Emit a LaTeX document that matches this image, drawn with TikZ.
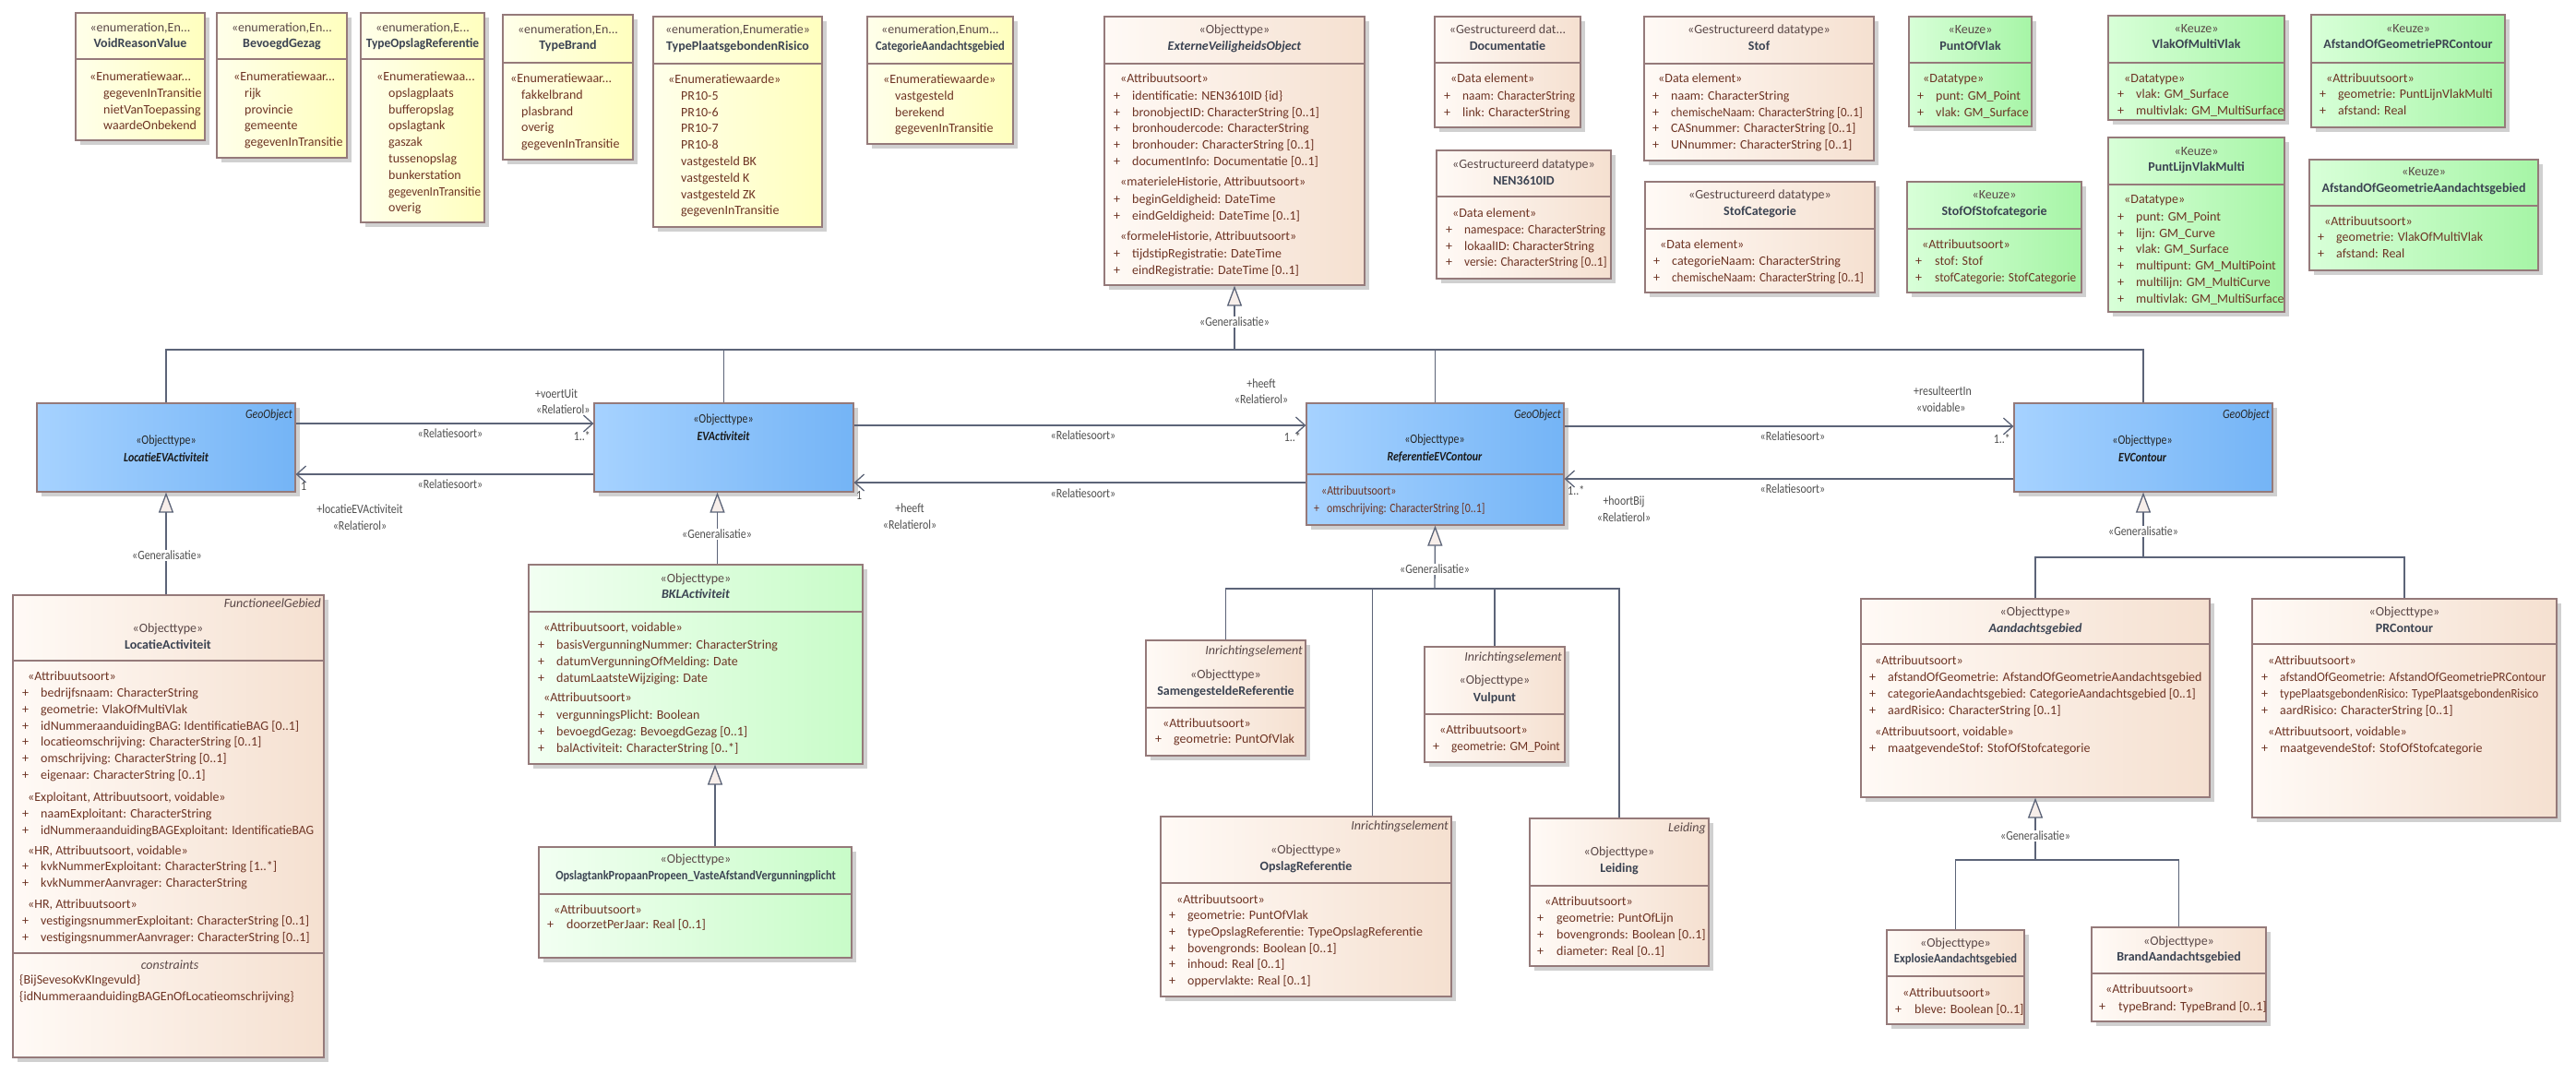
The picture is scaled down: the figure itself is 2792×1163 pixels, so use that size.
\documentclass[tikz,border=0pt]{standalone}
\usepackage{fontspec}
\usepackage{graphicx}
\setmainfont{Carlito}
\newfontfamily\narrowf[FakeStretch=0.85]{Carlito}
\usetikzlibrary{fit,shadows,arrows.meta}

\definecolor{boxc}{HTML}{957A7A}
\definecolor{shadc}{HTML}{D0D0D0}
\definecolor{conc}{HTML}{5C6478}
\definecolor{atc}{HTML}{6E3424}
\definecolor{stc}{HTML}{5A4848}
\definecolor{nmc}{HTML}{3B4352}
\definecolor{lblc}{HTML}{4F4F4F}
\definecolor{enL}{HTML}{FFFFEA}\definecolor{enR}{HTML}{FFFFBE}
\definecolor{bgL}{HTML}{FFFAF6}\definecolor{bgR}{HTML}{F5E0D0}
\definecolor{grL}{HTML}{D8FFD8}\definecolor{grR}{HTML}{A6F5A6}
\definecolor{lgL}{HTML}{F2FFF2}\definecolor{lgR}{HTML}{C8FCC8}
\definecolor{blL}{HTML}{A6D2FF}\definecolor{blR}{HTML}{74B4F6}
\definecolor{trif}{HTML}{F7EEEA}

\newcounter{tn}
\newcommand\fsz{\fontsize{14}{17.8}\selectfont}
\newcommand\sq[2]{\scalebox{#1}[1]{#2}}
\newcommand\tx[4][]{\stepcounter{tn}\node[anchor=mid,#1] (t\arabic{tn}) at (#2,#3) {#4};}
\newcommand\vl[3]{\foreach \vv [count=\ii from 0] in {#3} {\tx[atw]{#1}{#2+\ii*17.8}{\vv}}}
\newcommand\pls[4]{\foreach \vv [count=\ii from 0] in {#4} {\tx[atw]{#1}{#3+\ii*17.8}{+}\tx[atw]{#2}{#3+\ii*17.8}{\vv}}}
\newcommand\dv[3]{\draw[boxln] (#1,#3) -- (#2,#3);}

\tikzset{
  every node/.style={font=\fsz, inner sep=0pt},
  cls/.style={draw=boxc, line width=1.2pt, inner sep=0pt, rectangle,
    drop shadow={shadow xshift=5pt, shadow yshift=-5pt, fill=shadc, opacity=1}},
  yel/.style={left color=enL, right color=enR},
  bge/.style={left color=bgL, right color=bgR},
  grn/.style={left color=grL, right color=grR},
  lgr/.style={left color=lgL, right color=lgR},
  blu/.style={left color=blL, right color=blR},
  boxln/.style={draw=boxc, line width=1.2pt},
  hst/.style={text=stc},
  hnm/.style={text=nmc, font=\fsz\bfseries},
  hnmi/.style={text=nmc, font=\fsz\bfseries\itshape},
  at/.style={text=atc},
  atw/.style={text=atc, anchor=mid west},
  it/.style={text=stc, font=\fsz\itshape},
  gst/.style={text=black!85, font=\narrowf\fsz\itshape},
  bst/.style={text=black!85, font=\narrowf\fsz},
  bnm/.style={text=black!90, font=\narrowf\fsz\bfseries\itshape},
  bat/.style={text=atc, font=\narrowf\fsz},
  lbl/.style={text=lblc, font=\narrowf\fsz},
  gl/.style={lbl, fill=white, inner xsep=2pt, inner ysep=1pt},
  conn/.style={draw=conc, line width=1.3pt},
  gen/.style={conn, -{Triangle[length=22pt,width=16pt,fill=trif,line width=1.3pt]}},
  assoc/.style={conn, -{Straight Barb[length=10pt,width=18pt,line width=1.3pt]}},
}

\begin{document}
\begin{tikzpicture}[x=1pt,y=-1pt]
\fill[white] (0,0) rectangle (2792,1163);
\useasboundingbox (0,0) rectangle (2792,1163);

% ---------------- enumerations
\node[cls,yel,fit={(82,14) (222,152)}] (void) {};
\dv{82}{222}{64}
\tx[hst]{152}{32}{«enumeration,En...}
\tx[hnm]{152}{49}{VoidReasonValue}
\tx[atw]{97}{85}{«Enumeratiewaar...}
\vl{112}{103}{gegevenInTransitie,nietVanToepassing,waardeOnbekend}

\node[cls,yel,fit={(235,14) (376,171)}] (bevoegd) {};
\dv{235}{376}{64}
\tx[hst]{305.5}{32}{«enumeration,En...}
\tx[hnm]{305.5}{49}{BevoegdGezag}
\tx[atw]{253}{85}{«Enumeratiewaar...}
\vl{265}{103}{rijk,provincie,gemeente,gegevenInTransitie}

\node[cls,yel,fit={(391,14) (525,241)}] (typeopslag) {};
\dv{391}{525}{64}
\tx[hst]{458}{32}{«enumeration,E...}
\tx[hnm]{458}{49}{\sq{0.96}{TypeOpslagReferentie}}
\tx[atw]{408}{85}{«Enumeratiewaa...}
\vl{421}{103}{opslagplaats,bufferopslag,opslagtank,gaszak,tussenopslag,bunkerstation,\sq{0.94}{gegevenInTransitie},overig}

\node[cls,yel,fit={(545,16) (686,173)}] (typebrand) {};
\dv{545}{686}{68}
\tx[hst]{615.5}{34}{«enumeration,En...}
\tx[hnm]{615.5}{51}{TypeBrand}
\tx[atw]{553}{87}{«Enumeratiewaar...}
\vl{565}{105}{fakkelbrand,plasbrand,overig,gegevenInTransitie}

\node[cls,yel,fit={(708,18) (891,246)}] (typepr) {};
\dv{708}{891}{69}
\tx[hst]{799.5}{34}{«enumeration,Enumeratie»}
\tx[hnm]{799.5}{52}{TypePlaatsgebondenRisico}
\tx[atw]{724}{88}{«Enumeratiewaarde»}
\vl{738}{106}{PR10-5,PR10-6,PR10-7,PR10-8,vastgesteld BK,vastgesteld K,vastgesteld ZK,gegevenInTransitie}

\node[cls,yel,fit={(940,18) (1098,156)}] (catag) {};
\dv{940}{1098}{69}
\tx[hst]{1019}{34}{«enumeration,Enum...}
\tx[hnm]{1019}{52}{\sq{0.9}{CategorieAandachtsgebied}}
\tx[atw]{957}{88}{«Enumeratiewaarde»}
\vl{970}{106}{vastgesteld,berekend,gegevenInTransitie}

% ---------------- data types top
\node[cls,bge,fit={(1197,18) (1479,309)}] (evo) {};
\dv{1197}{1479}{69}
\tx[hst]{1338}{34}{«Objecttype»}
\tx[hnmi]{1338}{52}{ExterneVeiligheidsObject}
\tx[atw]{1214}{87}{«Attribuutsoort»}
\pls{1207}{1227}{106}{identificatie: NEN3610ID \{id\},bronobjectID: CharacterString [0..1],bronhoudercode: CharacterString,bronhouder: CharacterString [0..1],documentInfo: Documentatie [0..1]}
\tx[atw]{1214}{199}{«materieleHistorie, Attribuutsoort»}
\pls{1207}{1227}{218}{beginGeldigheid: DateTime,eindGeldigheid: DateTime [0..1]}
\tx[atw]{1214}{258}{«formeleHistorie, Attribuutsoort»}
\pls{1207}{1227}{277}{tijdstipRegistratie: DateTime,eindRegistratie: DateTime [0..1]}

\node[cls,bge,fit={(1555,18) (1713,138)}] (doc) {};
\dv{1555}{1713}{68}
\tx[hst]{1634}{34}{«Gestructureerd dat...}
\tx[hnm]{1634}{52}{Documentatie}
\tx[atw]{1572}{87}{«Data element»}
\pls{1565}{1585}{106}{\sq{0.95}{naam: CharacterString},link: CharacterString}

\node[cls,bge,fit={(1557,163) (1746,302)}] (nen) {};
\dv{1557}{1746}{213}
\tx[hst]{1651.5}{180}{«Gestructureerd datatype»}
\tx[hnm]{1651.5}{198}{NEN3610ID}
\tx[atw]{1574}{233}{«Data element»}
\pls{1567}{1587}{251}{\sq{0.95}{namespace: CharacterString},lokaalID: CharacterString,\sq{0.95}{versie: CharacterString [0..1]}}

\node[cls,bge,fit={(1782,18) (2031,174)}] (stof) {};
\dv{1782}{2031}{69}
\tx[hst]{1906.5}{34}{«Gestructureerd datatype»}
\tx[hnm]{1906.5}{52}{Stof}
\tx[atw]{1797}{87}{«Data element»}
\pls{1791}{1811}{106}{naam: CharacterString,\sq{0.93}{chemischeNaam: CharacterString [0..1]},CASnummer: CharacterString [0..1],UNnummer: CharacterString [0..1]}

\node[cls,bge,fit={(1783,197) (2032,317)}] (stofcat) {};
\dv{1783}{2032}{248}
\tx[hst]{1907.5}{213}{«Gestructureerd datatype»}
\tx[hnm]{1907.5}{231}{StofCategorie}
\tx[atw]{1799}{267}{«Data element»}
\pls{1792}{1812}{285}{categorieNaam: CharacterString,\sq{0.93}{chemischeNaam: CharacterString [0..1]}}

\node[cls,grn,fit={(2069,18) (2202,137)}] (pov) {};
\dv{2069}{2202}{68}
\tx[hst]{2135.5}{34}{«Keuze»}
\tx[hnm]{2135.5}{52}{PuntOfVlak}
\tx[atw]{2084}{87}{«Datatype»}
\pls{2078}{2098}{106}{punt: GM\_Point,vlak: GM\_Surface}

\node[cls,grn,fit={(2067,197) (2256,317)}] (sosc) {};
\dv{2067}{2256}{248}
\tx[hst]{2161.5}{213}{«Keuze»}
\tx[hnm]{2161.5}{231}{StofOfStofcategorie}
\tx[atw]{2083}{267}{«Attribuutsoort»}
\pls{2076}{2097}{285}{stof: Stof,\sq{0.95}{stofCategorie: StofCategorie}}

\node[cls,grn,fit={(2285,17) (2476,130)}] (vomv) {};
\dv{2285}{2476}{68}
\tx[hst]{2380.5}{33}{«Keuze»}
\tx[hnm]{2380.5}{50}{VlakOfMultiVlak}
\tx[atw]{2302}{87}{«Datatype»}
\pls{2295}{2315}{104}{vlak: GM\_Surface,multivlak: GM\_MultiSurface}

\node[cls,grn,fit={(2285,149) (2476,338)}] (plvm) {};
\dv{2285}{2476}{200}
\tx[hst]{2380.5}{166}{«Keuze»}
\tx[hnm]{2380.5}{183}{PuntLijnVlakMulti}
\tx[atw]{2302}{218}{«Datatype»}
\pls{2295}{2315}{237}{punt: GM\_Point,lijn: GM\_Curve,vlak: GM\_Surface,multipunt: GM\_MultiPoint,multilijn: GM\_MultiCurve,multivlak: GM\_MultiSurface}

\node[cls,grn,fit={(2505,16) (2715,138)}] (agpr) {};
\dv{2505}{2715}{68}
\tx[hst]{2610}{33}{«Keuze»}
\tx[hnm]{2610}{50}{AfstandOfGeometriePRContour}
\tx[atw]{2521}{87}{«Attribuutsoort»}
\pls{2514}{2534}{104}{geometrie: PuntLijnVlakMulti,afstand: Real}

\node[cls,grn,fit={(2503,173) (2751,293)}] (aga) {};
\dv{2503}{2751}{223}
\tx[hst]{2627}{188}{«Keuze»}
\tx[hnm]{2627}{206}{AfstandOfGeometrieAandachtsgebied}
\tx[atw]{2519}{242}{«Attribuutsoort»}
\pls{2512}{2532}{259}{geometrie: VlakOfMultiVlak,afstand: Real}

% ---------------- blue row
\node[cls,blu,fit={(40,437) (320,533)}] (locev) {};
\tx[gst,anchor=mid east]{317}{451}{GeoObject}
\tx[bst]{180}{479}{«Objecttype»}
\tx[bnm]{180}{498}{LocatieEVActiviteit}

\node[cls,blu,fit={(644,437) (925,533)}] (evact) {};
\tx[bst]{784}{456}{«Objecttype»}
\tx[bnm]{784}{475}{EVActiviteit}

\node[cls,blu,fit={(1416,437) (1695,569)}] (refev) {};
\dv{1416}{1695}{514}
\tx[gst,anchor=mid east]{1692}{451}{GeoObject}
\tx[bst]{1555}{478}{«Objecttype»}
\tx[bnm]{1555}{497}{ReferentieEVContour}
\tx[bat,anchor=mid west]{1432}{534}{«Attribuutsoort»}
\tx[bat,anchor=mid west]{1424}{553}{+}
\tx[bat,anchor=mid west]{1438}{553}{omschrijving: CharacterString [0..1]}

\node[cls,blu,fit={(2183,437) (2463,533)}] (evcon) {};
\tx[gst,anchor=mid east]{2460}{451}{GeoObject}
\tx[bst]{2322}{479}{«Objecttype»}
\tx[bnm]{2322}{498}{EVContour}

% ---------------- lower classes
\node[cls,bge,fit={(14,645) (351,1146)}] (locact) {};
\dv{14}{351}{716}
\dv{14}{351}{1033}
\tx[it,anchor=mid east]{348}{656}{FunctioneelGebied}
\tx[hst]{182}{683}{«Objecttype»}
\tx[hnm]{182}{701}{LocatieActiviteit}
\tx[atw]{30}{735}{«Attribuutsoort»}
\pls{24}{44}{753}{bedrijfsnaam: CharacterString,geometrie: VlakOfMultiVlak,idNummeraanduidingBAG: IdentificatieBAG [0..1],locatieomschrijving: CharacterString [0..1],omschrijving: CharacterString [0..1],eigenaar: CharacterString [0..1]}
\tx[atw]{30}{866}{«Exploitant, Attribuutsoort, voidable»}
\pls{24}{44}{884}{naamExploitant: CharacterString,\sq{0.97}{idNummeraanduidingBAGExploitant: IdentificatieBAG}}
\tx[atw]{30}{924}{«HR, Attribuutsoort, voidable»}
\pls{24}{44}{941}{kvkNummerExploitant: CharacterString [1..*],kvkNummerAanvrager: CharacterString}
\tx[atw]{30}{982}{«HR, Attribuutsoort»}
\pls{24}{44}{1000}{vestigingsnummerExploitant: CharacterString [0..1],vestigingsnummerAanvrager: CharacterString [0..1]}
\tx[it]{184}{1048}{constraints}
\tx[atw]{21}{1064}{\{BijSevesoKvKIngevuld\}}
\tx[atw]{21}{1082}{\{idNummeraanduidingBAGEnOfLocatieomschrijving\}}

\node[cls,lgr,fit={(573,612) (935,828)}] (bkl) {};
\dv{573}{935}{663}
\tx[hst]{754}{629}{«Objecttype»}
\tx[hnmi]{754}{646}{BKLActiviteit}
\tx[atw]{589}{682}{«Attribuutsoort, voidable»}
\pls{583}{603}{701}{basisVergunningNummer: CharacterString,datumVergunningOfMelding: Date,datumLaatsteWijziging: Date}
\tx[atw]{589}{758}{«Attribuutsoort»}
\pls{583}{603}{777}{vergunningsPlicht: Boolean,bevoegdGezag: BevoegdGezag [0..1],balActiviteit: CharacterString [0..*]}

\node[cls,lgr,fit={(584,918) (923,1038)}] (opstank) {};
\dv{584}{923}{969}
\tx[hst]{754}{933}{«Objecttype»}
\tx[hnm]{754}{951}{\sq{0.88}{OpslagtankPropaanPropeen\_VasteAfstandVergunningplicht}}
\tx[atw]{600}{988}{«Attribuutsoort»}
\pls{593}{614}{1004}{doorzetPerJaar: Real [0..1]}

\node[cls,bge,fit={(1242,694) (1415,819)}] (samref) {};
\dv{1242}{1415}{767}
\tx[it,anchor=mid east]{1412}{707}{Inrichtingselement}
\tx[hst]{1328.5}{733}{«Objecttype»}
\tx[hnm]{1328.5}{751}{SamengesteldeReferentie}
\tx[atw]{1260}{786}{«Attribuutsoort»}
\pls{1252}{1272}{803}{geometrie: PuntOfVlak}

\node[cls,bge,fit={(1544,701) (1696,826)}] (vulpunt) {};
\dv{1544}{1696}{774}
\tx[it,anchor=mid east]{1693}{714}{Inrichtingselement}
\tx[hst]{1620}{739}{«Objecttype»}
\tx[hnm]{1620}{758}{Vulpunt}
\tx[atw]{1560}{793}{«Attribuutsoort»}
\pls{1553}{1573}{811}{\sq{0.95}{geometrie: GM\_Point}}

\node[cls,bge,fit={(1258,885) (1573,1080)}] (opsref) {};
\dv{1258}{1573}{957}
\tx[it,anchor=mid east]{1570}{897}{Inrichtingselement}
\tx[hst]{1415.5}{923}{«Objecttype»}
\tx[hnm]{1415.5}{941}{OpslagReferentie}
\tx[atw]{1275}{977}{«Attribuutsoort»}
\pls{1267}{1287}{994}{geometrie: PuntOfVlak,typeOpslagReferentie: TypeOpslagReferentie,bovengronds: Boolean [0..1],inhoud: Real [0..1],oppervlakte: Real [0..1]}

\node[cls,bge,fit={(1658,887) (1852,1047)}] (leiding) {};
\dv{1658}{1852}{960}
\tx[it,anchor=mid east]{1849}{899}{Leiding}
\tx[hst]{1755}{925}{«Objecttype»}
\tx[hnm]{1755}{943}{Leiding}
\tx[atw]{1674}{979}{«Attribuutsoort»}
\pls{1666}{1687}{997}{geometrie: PuntOfLijn,bovengronds: Boolean [0..1],diameter: Real [0..1]}

\node[cls,bge,fit={(2017,649) (2395,864)}] (aandacht) {};
\dv{2017}{2395}{698}
\tx[hst]{2206}{665}{«Objecttype»}
\tx[hnmi]{2206}{683}{Aandachtsgebied}
\tx[atw]{2032}{718}{«Attribuutsoort»}
\pls{2026}{2046}{736}{afstandOfGeometrie: AfstandOfGeometrieAandachtsgebied,\sq{0.97}{categorieAandachtsgebied: CategorieAandachtsgebied [0..1]},aardRisico: CharacterString [0..1]}
\tx[atw]{2032}{795}{«Attribuutsoort, voidable»}
\pls{2026}{2046}{813}{maatgevendeStof: StofOfStofcategorie}

\node[cls,bge,fit={(2441,649) (2771,886)}] (prc) {};
\dv{2441}{2771}{698}
\tx[hst]{2606}{665}{«Objecttype»}
\tx[hnm]{2606}{683}{PRContour}
\tx[atw]{2458}{718}{«Attribuutsoort»}
\pls{2451}{2471}{736}{\sq{0.95}{afstandOfGeometrie: AfstandOfGeometriePRContour},\sq{0.91}{typePlaatsgebondenRisico: TypePlaatsgebondenRisico},aardRisico: CharacterString [0..1]}
\tx[atw]{2458}{795}{«Attribuutsoort, voidable»}
\pls{2451}{2471}{813}{maatgevendeStof: StofOfStofcategorie}

\node[cls,bge,fit={(2045,1008) (2194,1110)}] (explosie) {};
\dv{2045}{2194}{1058}
\tx[hst]{2119.5}{1024}{«Objecttype»}
\tx[hnm]{2119.5}{1041}{\sq{0.9}{ExplosieAandachtsgebied}}
\tx[atw]{2062}{1078}{«Attribuutsoort»}
\pls{2054}{2075}{1096}{bleve: Boolean [0..1]}

\node[cls,bge,fit={(2267,1005) (2456,1107)}] (brand) {};
\dv{2267}{2456}{1055}
\tx[hst]{2361.5}{1022}{«Objecttype»}
\tx[hnm]{2361.5}{1039}{BrandAandachtsgebied}
\tx[atw]{2282}{1074}{«Attribuutsoort»}
\pls{2275}{2296}{1093}{typeBrand: TypeBrand [0..1]}

% ---------------- generalisations
\coordinate (b0) at (1338,379);
\draw[conn] (locev.north) -- (locev.north |- b0) -- (evcon.north |- b0) -- (evcon.north);
\draw[conn] (evact.north) -- (evact.north |- b0);
\draw[conn] (refev.north) -- (refev.north |- b0);
\draw[gen] (b0) -- (evo.south);
\node[gl] (g1) at (1338,349) {«Generalisatie»};

\draw[gen] (locev.south |- locact.north) -- (locev.south);
\node[gl] (g2) at (181,602) {«Generalisatie»};

\path (evact.south) ++(-7,0) coordinate (g3t);
\draw[gen] (g3t |- bkl.north) -- (g3t);
\node[gl] (g3) at (777,579) {«Generalisatie»};

\path (bkl.south) ++(21,0) coordinate (g4t);
\draw[gen] (g4t |- opstank.north) -- (g4t);

\coordinate (b2) at (1555,638);
\draw[conn] (samref.north) -- (samref.north |- b2) -- (leiding.north |- b2) -- (leiding.north);
\draw[conn] (vulpunt.north) -- (vulpunt.north |- b2);
\path (opsref.north) ++(72,0) coordinate (op1);
\draw[conn] (op1) -- (op1 |- b2);
\draw[gen] (b2) -- (refev.south);
\node[gl] (g5) at (1555,617) {«Generalisatie»};

\coordinate (b3) at (2323,604);
\draw[conn] (aandacht.north) -- (aandacht.north |- b3) -- (prc.north |- b3) -- (prc.north);
\draw[gen] (b3) -- (evcon.south);
\node[gl] (g6) at (2323,576) {«Generalisatie»};

\coordinate (b4) at (2206,932);
\draw[conn] (explosie.north) -- (explosie.north |- b4) -- (brand.north |- b4) -- (brand.north);
\draw[gen] (b4) -- (aandacht.south);
\node[gl] (g7) at (2206,906) {«Generalisatie»};

% ---------------- associations
\draw[assoc] ([yshift=26pt]locev.east) -- ([yshift=26pt]evact.west);
\draw[assoc] ([yshift=-29pt]evact.west) -- ([yshift=-29pt]locev.east);
\draw[assoc] ([yshift=24pt]evact.east) -- ([yshift=42pt]refev.west);
\draw[assoc] ([yshift=-20pt]refev.west) -- ([yshift=-38pt]evact.east);
\draw[assoc] ([yshift=41pt]refev.east) -- ([yshift=23pt]evcon.west);
\draw[assoc] ([yshift=-34pt]evcon.west) -- ([yshift=-16pt]refev.east);

\tx[lbl,anchor=mid west]{580}{429}{+voertUit}
\tx[lbl,anchor=mid west,fill=white,inner xsep=1pt]{580}{446}{«Relatierol»}
\tx[lbl]{488}{472}{«Relatiesoort»}
\tx[lbl,anchor=mid east]{640}{475}{1..*}
\tx[lbl]{488}{527}{«Relatiesoort»}
\tx[lbl,anchor=mid west]{326}{529}{1}
\tx[lbl]{390}{554}{+locatieEVActiviteit}
\tx[lbl]{390}{572}{«Relatierol»}

\tx[lbl]{1367}{418}{+heeft}
\tx[lbl]{1367}{435}{«Relatierol»}
\tx[lbl]{1174}{474}{«Relatiesoort»}
\tx[lbl,anchor=mid east]{1410}{476}{1..*}
\tx[lbl]{1174}{537}{«Relatiesoort»}
\tx[lbl,anchor=mid west]{928}{539}{1}
\tx[lbl]{986}{553}{+heeft}
\tx[lbl]{986}{571}{«Relatierol»}

\tx[lbl,anchor=mid west]{2074}{426}{+resulteertIn}
\tx[lbl,anchor=mid west]{2077}{444}{«voidable»}
\tx[lbl]{1943}{475}{«Relatiesoort»}
\tx[lbl,anchor=mid east]{2179}{478}{1..*}
\tx[lbl]{1943}{532}{«Relatiesoort»}
\tx[lbl,anchor=mid west]{1699}{534}{1..*}
\tx[lbl]{1760}{545}{+hoortBij}
\tx[lbl]{1760}{563}{«Relatierol»}
\end{tikzpicture}
\end{document}
